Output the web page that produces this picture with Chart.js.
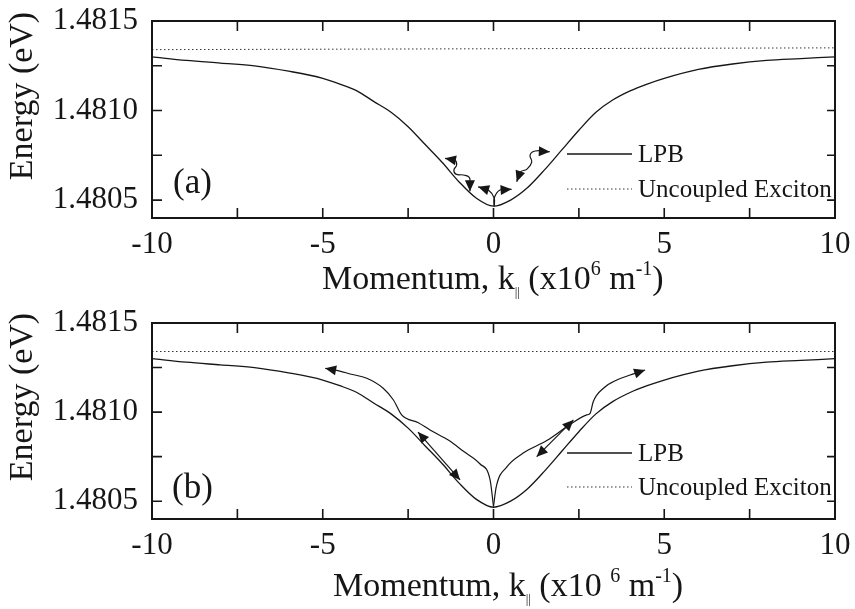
<!DOCTYPE html>
<html>
<head>
<meta charset="utf-8">
<script src="https://cdn.jsdelivr.net/npm/chart.js@4.4.0/dist/chart.umd.min.js"></script>
<style>
  body { margin: 0; background: #fff; }
  canvas { display: block; }
</style>
</head>
<body>
<canvas id="panel-a" width="855" height="300"></canvas>
<canvas id="panel-b" width="855" height="309"></canvas>
<script>
// Lower polariton branch (k in 1e6 m^-1, E in eV)
const lpbK = [-10, -9, -8, -7, -6, -5, -4.5, -4, -3.5, -3, -2.5, -2, -1.5, -1, -0.5, 0,
  0.5, 1, 1.5, 2, 2.5, 3, 3.5, 4, 4.5, 5, 6, 7, 8, 9, 10];
const lpbE = [1.48130, 1.48128, 1.481265, 1.48125, 1.48122, 1.48118, 1.481148, 1.48111, 1.48105,
  1.48099, 1.48091, 1.48081, 1.48071, 1.48060, 1.48051, 1.480466,
  1.48050, 1.48057, 1.48067, 1.48078, 1.48089, 1.48099, 1.48106, 1.48111, 1.481148, 1.48118,
  1.48123, 1.48126, 1.48128, 1.48129, 1.48130];

// Uncoupled exciton level
const excitonK = [-10, 10];
const excitonEa = [1.48134, 1.48135];
const excitonEb = [1.48134, 1.48134];

// Axis ticks
const xLabels = [-10, -5, 0, 5, 10];
const xTickMarks = [-7.5, -5, -2.5, 0, 2.5, 5, 7.5];
const yLabels = [1.4805, 1.4810, 1.4815];
const yTickMarks = [1.4805, 1.48075, 1.4810, 1.48125];

// Panel (a) scattering arrows
const waveLeftK = [-1.42, -1.13, -1.08, -1.16, -1.10, -0.88, -0.71, -0.69, -0.69];
const waveLeftE = [1.480733, 1.480723, 1.480696, 1.480668, 1.480645, 1.48064, 1.480627, 1.480593, 1.48055];
const midLeftK = [0.02, 0.02, -0.15, -0.45];
const midLeftE = [1.480466, 1.480511, 1.480556, 1.480574];
const midRightK = [0.02, 0.02, 0.19, 0.53];
const midRightE = [1.480466, 1.480511, 1.480556, 1.48056];
const waveRightK = [0.68, 0.78, 0.98, 1.12, 1.07, 1.22, 1.65];
const waveRightE = [1.480602, 1.480656, 1.480673, 1.480712, 1.480751, 1.480774, 1.48077];

// Panel (b) scattering path and arrows
const pathLeftK = [-4.93, -4.5, -4.2, -3.71, -3.23, -2.93, -2.69, -2.2, -1.86, -1.3, -0.88, -0.4, -0.1, 0];
const pathLeftE = [1.481246, 1.48123, 1.481214, 1.48119, 1.481134, 1.481068, 1.480984, 1.48094,
  1.48090, 1.48084, 1.48078, 1.48071, 1.48062, 1.48047];
const pathRightK = [0, 0.08, 0.38, 0.87, 1.56, 2.24, 2.73, 2.83, 2.92, 3.22, 3.61, 4.0, 4.44];
const pathRightE = [1.48047, 1.48058, 1.48069, 1.48077, 1.48084, 1.48093, 1.480984, 1.480993,
  1.481058, 1.481134, 1.48118, 1.481208, 1.481236];
const dblLeftK = [-2.21, -0.98];
const dblLeftE = [1.480888, 1.480619];
const dblRightK = [1.265, 2.34];
const dblRightE = [1.48075, 1.480956];

const serif = '"Liberation Serif", "Times New Roman", serif';
const ink = '#161616';

const pts = (ks, es) => ks.map((k, i) => ({ x: k, y: es[i] }));

const curve = (data, extra) => Object.assign({
  data,
  borderColor: ink,
  borderWidth: 1.3,
  pointRadius: 0,
  fill: false,
}, extra);

const arrow = (ks, es, heads, smooth) => curve(pts(ks, es), {
  heads,
  borderWidth: 1.2,
  tension: smooth ? 0.45 : 0,
});

function drawHead(ctx, from, to) {
  const a = Math.atan2(to.y - from.y, to.x - from.x);
  const len = 11, half = 5;
  const bx = to.x - len * Math.cos(a);
  const by = to.y - len * Math.sin(a);
  ctx.beginPath();
  ctx.moveTo(to.x, to.y);
  ctx.lineTo(bx + half * Math.sin(a), by - half * Math.cos(a));
  ctx.lineTo(bx - half * Math.sin(a), by + half * Math.cos(a));
  ctx.closePath();
  ctx.fill();
}

// Arrow heads at the ends of datasets flagged with `heads`
const arrowHeads = {
  id: 'arrowHeads',
  afterDatasetsDraw(chart) {
    const ctx = chart.ctx;
    ctx.save();
    ctx.fillStyle = ink;
    chart.data.datasets.forEach((ds, i) => {
      if (!ds.heads) return;
      const p = chart.getDatasetMeta(i).data;
      const n = p.length;
      if (ds.heads === 'start' || ds.heads === 'both') drawHead(ctx, p[1], p[0]);
      if (ds.heads === 'end' || ds.heads === 'both') drawHead(ctx, p[n - 2], p[n - 1]);
    });
    ctx.restore();
  },
};

function richText(ctx, x, y, parts) {
  parts.forEach((p) => {
    ctx.font = `${p.size}px ${serif}`;
    ctx.fillText(p.t, x, y + (p.dy || 0));
    x += ctx.measureText(p.t).width;
  });
}

// Box frame, inward ticks, axis titles, panel tag and legend
const decor = {
  id: 'decor',
  afterDraw(chart, args, o) {
    const { ctx, chartArea: a, scales: { x, y } } = chart;
    ctx.save();
    ctx.strokeStyle = ink;
    ctx.lineWidth = 2;
    ctx.strokeRect(a.left, a.top, a.right - a.left, a.bottom - a.top);

    ctx.lineWidth = 1.6;
    ctx.beginPath();
    xTickMarks.forEach((v) => {
      const px = x.getPixelForValue(v);
      ctx.moveTo(px, a.top); ctx.lineTo(px, a.top + 10);
      ctx.moveTo(px, a.bottom); ctx.lineTo(px, a.bottom - 10);
    });
    yTickMarks.forEach((v) => {
      const py = y.getPixelForValue(v);
      ctx.moveTo(a.left, py); ctx.lineTo(a.left + 10, py);
      ctx.moveTo(a.right, py); ctx.lineTo(a.right - 8, py);
    });
    ctx.stroke();

    ctx.fillStyle = ink;
    ctx.textBaseline = 'alphabetic';
    richText(ctx, o.xTitle.x, o.xTitle.y, o.xTitle.parts);

    // y title, rotated
    ctx.save();
    ctx.translate(o.yTitle.x, o.yTitle.y);
    ctx.rotate(-Math.PI / 2);
    ctx.font = `34px ${serif}`;
    ctx.textAlign = 'center';
    ctx.textBaseline = 'middle';
    ctx.fillText('Energy (eV)', 0, 0);
    ctx.restore();

    // panel tag
    ctx.font = `35px ${serif}`;
    ctx.textBaseline = 'middle';
    ctx.fillText(o.tag.text, o.tag.x, o.tag.y);

    // legend
    const lg = o.legend;
    ctx.font = `25px ${serif}`;
    ctx.lineWidth = 1.3;
    ctx.beginPath();
    ctx.moveTo(lg.x0, lg.y1); ctx.lineTo(lg.x1, lg.y1);
    ctx.stroke();
    ctx.fillText('LPB', lg.tx, lg.y1 + 1);
    ctx.lineWidth = 1;
    ctx.strokeStyle = '#333';
    ctx.setLineDash([1.5, 2.5]);
    ctx.beginPath();
    ctx.moveTo(lg.x0, lg.y2); ctx.lineTo(lg.x1, lg.y2);
    ctx.stroke();
    ctx.setLineDash([]);
    ctx.fillText('Uncoupled Exciton', lg.tx, lg.y2 + 1);
    ctx.restore();
  },
};

function buildPanel(id, datasets, layout, decorOpts) {
  return new Chart(document.getElementById(id), {
    type: 'line',
    data: { datasets },
    options: {
      responsive: false,
      animation: false,
      layout: { padding: { top: layout.top, right: 20, left: 0, bottom: 0 } },
      scales: {
        x: {
          type: 'linear',
          min: -10,
          max: 10,
          afterFit: (s) => {
            s.height = layout.xHeight;
            s.paddingLeft = 0;
            s.paddingRight = 0;
          },
          afterBuildTicks: (s) => { s.ticks = xLabels.map((v) => ({ value: v })); },
          grid: { display: false, drawTicks: false },
          border: { display: false },
          ticks: {
            padding: 8,
            color: ink,
            font: { family: serif, size: 31 },
            maxRotation: 0,
            callback: (v) => String(v),
          },
        },
        y: {
          type: 'linear',
          min: 1.4804,
          max: 1.4815,
          afterFit: (s) => {
            s.width = 152;
            s.paddingTop = 0;
            s.paddingBottom = 0;
          },
          afterBuildTicks: (s) => { s.ticks = yLabels.map((v) => ({ value: v })); },
          grid: { display: false, drawTicks: false },
          border: { display: false },
          ticks: {
            padding: 14,
            color: ink,
            font: { family: serif, size: 31 },
            callback: (v) => v.toFixed(4),
          },
        },
      },
      plugins: {
        legend: { display: false },
        tooltip: { enabled: false },
        decor: decorOpts,
      },
    },
    plugins: [arrowHeads, decor],
  });
}

const lpbSet = () => curve(pts(lpbK, lpbE), { cubicInterpolationMode: 'monotone' });
const excitonSet = (es) => curve(pts(excitonK, es), { borderColor: '#333', borderWidth: 1, borderDash: [1.5, 2.5] });

buildPanel('panel-a', [
  lpbSet(),
  excitonSet(excitonEa),
  arrow(waveLeftK, waveLeftE, 'both', true),
  arrow(midLeftK, midLeftE, 'end', true),
  arrow(midRightK, midRightE, 'end', true),
  arrow(waveRightK, waveRightE, 'both', true),
], { top: 21, xHeight: 82 }, {
  xTitle: {
    x: 322, y: 289,
    parts: [
      { t: 'Momentum, k', size: 34 },
      { t: '||', size: 13, dy: 7 },
      { t: ' (x10', size: 34 },
      { t: '6', size: 20, dy: -14 },
      { t: ' m', size: 34 },
      { t: '-1', size: 20, dy: -14 },
      { t: ')', size: 34 },
    ],
  },
  yTitle: { x: 23, y: 96 },
  tag: { text: '(a)', x: 173, y: 184 },
  legend: { x0: 567, x1: 632, tx: 638, y1: 154, y2: 189 },
});

buildPanel('panel-b', [
  lpbSet(),
  excitonSet(excitonEb),
  curve(pts(pathLeftK, pathLeftE), { heads: 'start', borderWidth: 1.2, cubicInterpolationMode: 'monotone' }),
  curve(pts(pathRightK, pathRightE), { heads: 'end', borderWidth: 1.2, cubicInterpolationMode: 'monotone' }),
  arrow(dblLeftK, dblLeftE, 'both', false),
  arrow(dblRightK, dblRightE, 'both', false),
], { top: 23, xHeight: 90 }, {
  xTitle: {
    x: 333, y: 296,
    parts: [
      { t: 'Momentum, k', size: 34 },
      { t: '||', size: 13, dy: 7 },
      { t: ' (x10 ', size: 34 },
      { t: '6', size: 20, dy: -14 },
      { t: ' m', size: 34 },
      { t: '-1', size: 20, dy: -14 },
      { t: ')', size: 34 },
    ],
  },
  yTitle: { x: 23, y: 97 },
  tag: { text: '(b)', x: 172, y: 189 },
  legend: { x0: 567, x1: 632, tx: 638, y1: 153, y2: 187 },
});
</script>
</body>
</html>
